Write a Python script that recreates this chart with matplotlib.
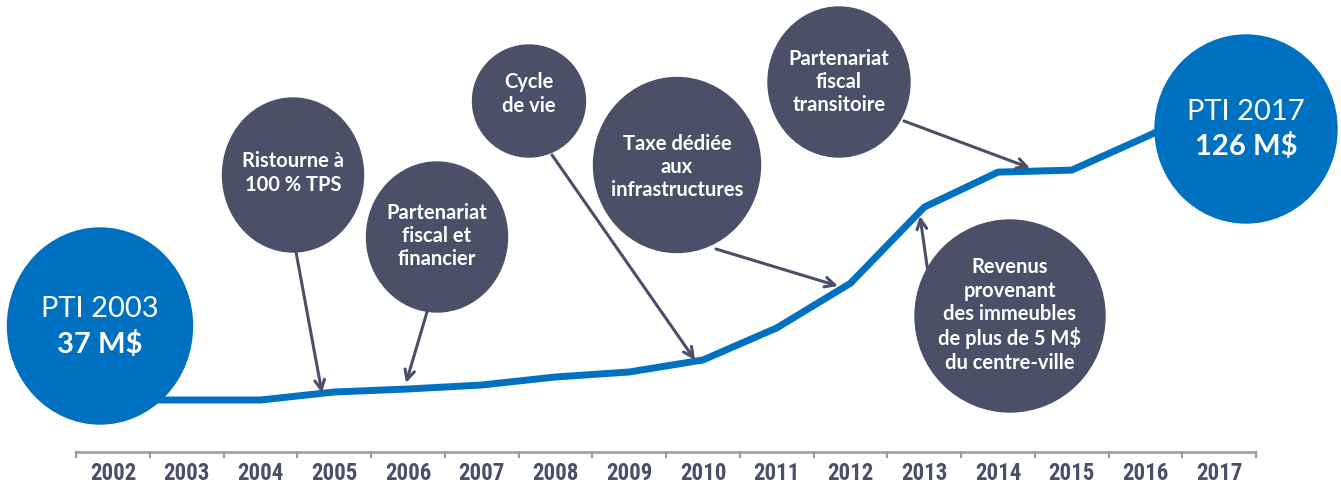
import matplotlib.pyplot as plt
from matplotlib.patches import Ellipse

# data (M$ per year)
years = ['2002', '2003', '2004', '2005', '2006', '2007', '2008', '2009',
         '2010', '2011', '2012', '2013', '2014', '2015', '2016', '2017']
pti = [37.0, 37.0, 37.0, 39.4, 40.3, 41.5, 43.9, 45.4, 49.0, 58.6, 72.0,
       94.8, 105.3, 105.9, 115.8, 126.0]

BLUE = '#0070C0'
SLATE = '#4B5068'
FONT = 'Lato'

fig = plt.figure(figsize=(13.41, 4.87), dpi=100)

# main axes: categories on x, values on y
ax = fig.add_axes([0, 0, 1, 1])
ax.set_xlim(-1.532, 16.651)
ax.set_ylim(10.93, 156.88)
ax.axis('off')
ax.plot(range(len(years)), pti, color=BLUE, lw=5, solid_joinstyle='miter',
        zorder=2)

# category axis with separators
base = 21.4
ax.plot([-0.5, len(years) - 0.5], [base, base], color='#9a9a9a', lw=1.8,
        solid_capstyle='butt', zorder=1)
for i in range(len(years) + 1):
    ax.plot([i - 0.5, i - 0.5], [base, base - 1.6], color='#9a9a9a', lw=1.5)
for i, y in enumerate(years):
    ax.text(i, base - 6.3, y, ha='center', va='center', fontsize=16.5,
            fontweight='bold', color=SLATE,
            family=['Liberation Sans Narrow', 'Roboto Condensed', 'Roboto'])

# overlay axes in pixel coordinates for the bubbles
ov = fig.add_axes([0, 0, 1, 1], facecolor='none')
ov.set_xlim(0, 1341)
ov.set_ylim(487, 0)
ov.axis('off')

arrow_kw = dict(arrowstyle='->,head_length=0.7,head_width=0.35',
                color=SLATE, lw=2.2, shrinkA=0, shrinkB=0)

arrows = [
    ((296, 252), (322, 393)),
    ((427, 312), (406, 383)),
    ((552, 155), (695, 360)),
    ((716, 249), (838, 286)),
    ((904, 121), (1030, 168)),
    ((929, 280), (920, 216)),
]
for start, end in arrows:
    ov.annotate('', xy=end, xytext=start, arrowprops=arrow_kw, zorder=3)

bubbles = [
    ((293, 175), 141, 154, 'Ristourne à\n100 % TPS', 173),
    ((437, 237), 141, 150, 'Partenariat\nfiscal et\nfinancier', 236),
    ((529, 101), 113, 112, 'Cycle\nde vie', 94),
    ((677, 165), 167, 175, 'Taxe dédiée\naux\ninfrastructures', 167),
    ((839, 82), 142, 150, 'Partenariat\nfiscal\ntransitoire', 82),
    ((1010, 316), 190, 192,
     'Revenus\nprovenant\ndes immeubles\nde plus de 5 M$\ndu centre-ville', 315),
]
for (cx, cy), w, h, label, ty in bubbles:
    ov.add_patch(Ellipse((cx, cy), w, h, color=SLATE, zorder=4))
    ov.text(cx, ty, label, ha='center', va='center', color='white',
            fontsize=14.5, fontweight='bold', family=FONT, linespacing=1.2,
            zorder=5)

# start / end blue bubbles
for (cx, cy), w, h, l1, l2 in [((100, 326), 185, 196, 'PTI 2003', '37 M$'),
                               ((1246, 129), 182, 188, 'PTI 2017', '126 M$')]:
    ov.add_patch(Ellipse((cx, cy), w, h, color=BLUE, zorder=4))
    ov.text(cx, cy - 17, l1, ha='center', va='center', color='white',
            fontsize=21, family=FONT, zorder=5)
    ov.text(cx, cy + 18, l2, ha='center', va='center', color='white',
            fontsize=21, fontweight='bold', family=FONT, zorder=5)

fig.savefig('out.png', dpi=100)
